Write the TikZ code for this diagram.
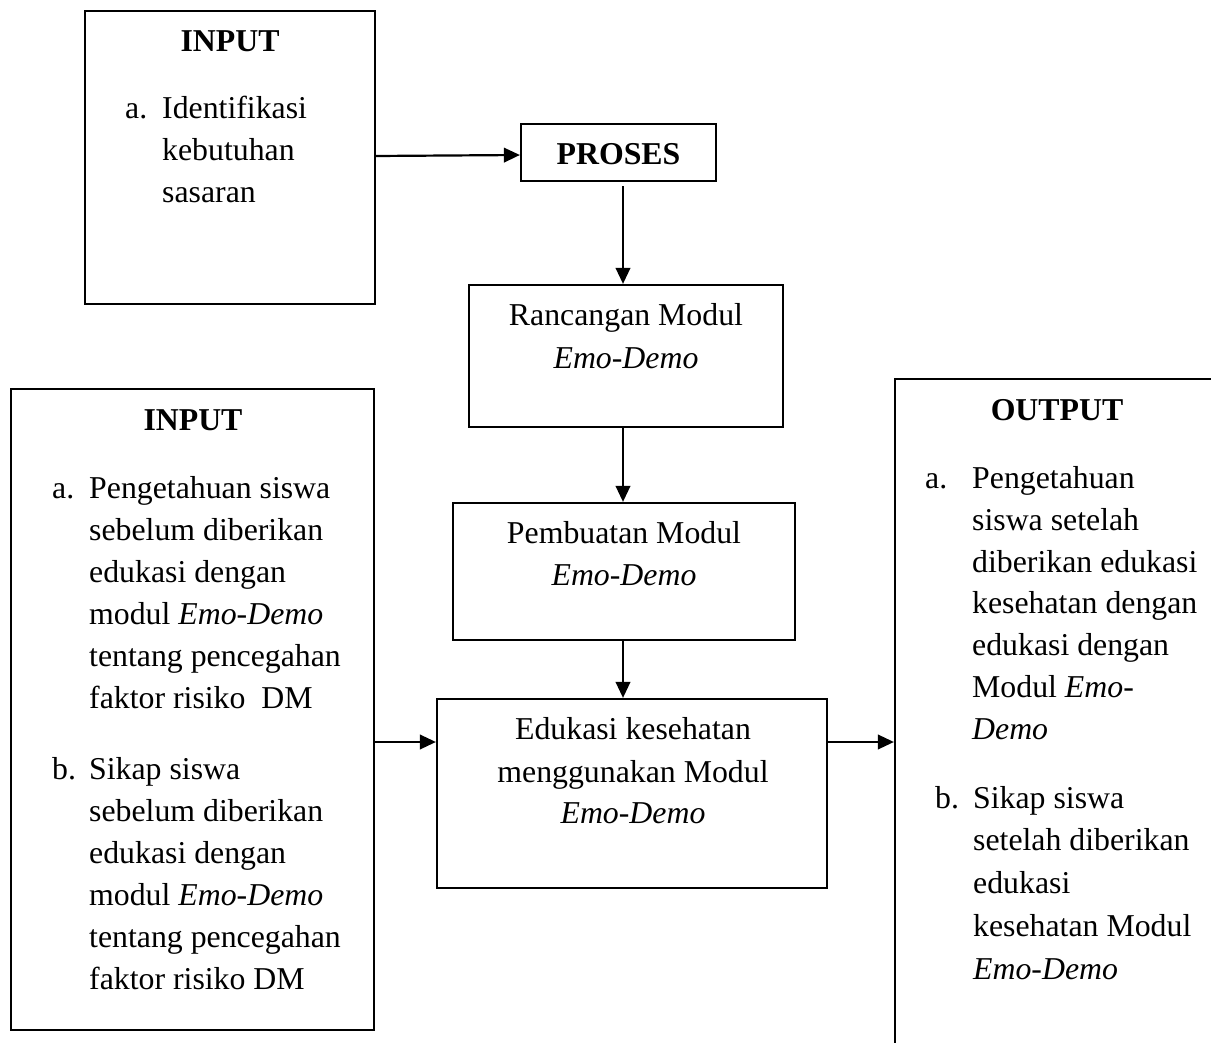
\documentclass[tikz,border=0pt]{standalone}
\usepackage{fontspec}
\setmainfont{Liberation Serif}
\usetikzlibrary{arrows.meta}
\newcommand\dfs{\fontsize{31.8}{42}\selectfont}
\begin{document}
\begin{tikzpicture}[x=1pt,y=-1pt,
  box/.style={draw,line width=2.2pt,inner sep=0pt,rectangle},
  txt/.style={anchor=base west,inner sep=0pt,font=\dfs},
  ctxt/.style={anchor=base,inner sep=0pt,font=\dfs},
  arr/.style={line width=2.2pt,-{Triangle[length=16pt,width=14.5pt]}}]
\useasboundingbox (0,0) rectangle (1211,1043);
\fill[white] (0,0) rectangle (1211,1043);
% boxes
\node[box,minimum width=290pt,minimum height=293pt] (in1) at (230,157.5) {};
\node[box,minimum width=195pt,minimum height=57pt] (pro) at (618.5,152.5) {};
\node[box,minimum width=314pt,minimum height=142pt] (ran) at (626,356) {};
\node[box,minimum width=342pt,minimum height=137pt] (pem) at (624,571.5) {};
\node[box,minimum width=390pt,minimum height=189pt] (edu) at (632,793.5) {};
\node[box,minimum width=363pt,minimum height=641pt] (in2) at (192.5,709.5) {};
\begin{scope}
\clip (0,0) rectangle (1211,1043);
\node[box,minimum width=345pt,minimum height=711pt] (out) at (1067.5,734.5) {};
\end{scope}
% helper coordinates for connector lines
\coordinate (ax) at (623,0);
\coordinate (ay) at (0,742);
% connectors
\draw[arr] (in1.east |- 0,156) -- (pro.west |- 0,155);
\draw[arr,shorten <=4pt] (pro.south -| ax) -- (ran.north -| ax);
\draw[arr] (ran.south -| ax) -- (pem.north -| ax);
\draw[arr] (pem.south -| ax) -- (edu.north -| ax);
\draw[arr] (in2.east |- ay) -- (edu.west |- ay);
\draw[arr] (edu.east |- ay) -- (out.west |- ay);
% top input text
\node[ctxt] (t1h) at (230,52) {\textbf{INPUT}};
\node[txt] (t1a) at (125,119) {a.};
\node[txt] (t1a1) at (162,119) {Identifikasi};
\node[txt] (t1a2) at (162,161) {kebutuhan};
\node[txt] (t1a3) at (162,203) {sasaran};
% process texts
\node[ctxt] (tp) at (618.5,165) {\textbf{PROSES}};
\node[ctxt] (tr1) at (626,325) {Rancangan Modul};
\node[ctxt] (tr2) at (626,368) {\textit{Emo-Demo}};
\node[ctxt] (tm1) at (624,543) {Pembuatan Modul};
\node[ctxt] (tm2) at (624,585) {\textit{Emo-Demo}};
\node[ctxt] (te1) at (633,739) {Edukasi kesehatan};
\node[ctxt] (te2) at (633,782) {menggunakan Modul};
\node[ctxt] (te3) at (633,823) {\textit{Emo-Demo}};
% left input text
\node[ctxt] (t2h) at (193,430) {\textbf{INPUT}};
\node[txt] (t2a) at (52,498) {a.};
\node[txt] (t2a1) at (89,498) {Pengetahuan siswa};
\node[txt] (t2a2) at (89,540) {sebelum diberikan};
\node[txt] (t2a3) at (89,582) {edukasi dengan};
\node[txt] (t2a4) at (89,624) {modul \textit{Emo-Demo}};
\node[txt] (t2a5) at (89,666) {tentang pencegahan};
\node[txt] (t2a6) at (89,708) {faktor risiko~ DM};
\node[txt] (t2b) at (52,779) {b.};
\node[txt] (t2b1) at (89,779) {Sikap siswa};
\node[txt] (t2b2) at (89,821) {sebelum diberikan};
\node[txt] (t2b3) at (89,863) {edukasi dengan};
\node[txt] (t2b4) at (89,905) {modul \textit{Emo-Demo}};
\node[txt] (t2b5) at (89,947) {tentang pencegahan};
\node[txt] (t2b6) at (89,989) {faktor risiko DM};
% output text
\node[ctxt] (t3h) at (1057,420) {\textbf{OUTPUT}};
\node[txt] (t3a) at (925,488) {a.};
\node[txt] (t3a1) at (972,488) {Pengetahuan};
\node[txt] (t3a2) at (972,530) {siswa setelah};
\node[txt] (t3a3) at (972,572) {diberikan edukasi};
\node[txt] (t3a4) at (972,613) {kesehatan dengan};
\node[txt] (t3a5) at (972,655) {edukasi dengan};
\node[txt] (t3a6) at (972,697) {Modul \textit{Emo-}};
\node[txt] (t3a7) at (972,739) {\textit{Demo}};
\node[txt] (t3b) at (935,808) {b.};
\node[txt] (t3b1) at (973,808) {Sikap siswa};
\node[txt] (t3b2) at (973,850) {setelah diberikan};
\node[txt] (t3b3) at (973,893) {edukasi};
\node[txt] (t3b4) at (973,936) {kesehatan Modul};
\node[txt] (t3b5) at (973,979) {\textit{Emo-Demo}};
\end{tikzpicture}
\end{document}
